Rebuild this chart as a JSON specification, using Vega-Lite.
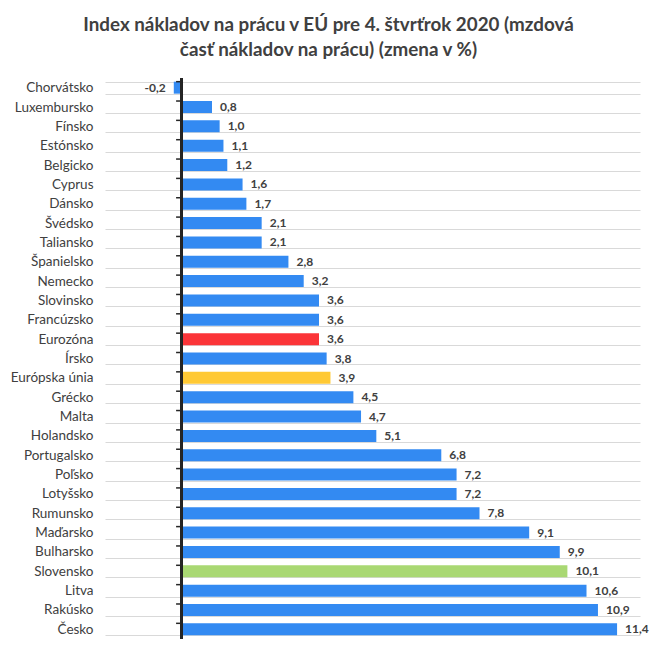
{
  "$schema": "https://vega.github.io/schema/vega-lite/v6.json",
  "width": 535,
  "height": 561,
  "autosize": "none",
  "padding": {"left": 105, "top": 78, "right": 16, "bottom": 17},
  "background": "white",
  "title": {
    "text": ["Index nákladov na prácu v EÚ pre 4. štvrťrok 2020 (mzdová", "časť nákladov na prácu) (zmena v %)"],
    "font": "Lato",
    "fontSize": 18.8,
    "fontWeight": "bold",
    "color": "#404040",
    "anchor": "middle",
    "dx": -44,
    "offset": 11,
    "lineHeight": 25
  },
  "data": {
    "values": [
      {"krajina": "Chorvátsko", "zmena": -0.2, "typ": "krajina"},
      {"krajina": "Luxembursko", "zmena": 0.8, "typ": "krajina"},
      {"krajina": "Fínsko", "zmena": 1.0, "typ": "krajina"},
      {"krajina": "Estónsko", "zmena": 1.1, "typ": "krajina"},
      {"krajina": "Belgicko", "zmena": 1.2, "typ": "krajina"},
      {"krajina": "Cyprus", "zmena": 1.6, "typ": "krajina"},
      {"krajina": "Dánsko", "zmena": 1.7, "typ": "krajina"},
      {"krajina": "Švédsko", "zmena": 2.1, "typ": "krajina"},
      {"krajina": "Taliansko", "zmena": 2.1, "typ": "krajina"},
      {"krajina": "Španielsko", "zmena": 2.8, "typ": "krajina"},
      {"krajina": "Nemecko", "zmena": 3.2, "typ": "krajina"},
      {"krajina": "Slovinsko", "zmena": 3.6, "typ": "krajina"},
      {"krajina": "Francúzsko", "zmena": 3.6, "typ": "krajina"},
      {"krajina": "Eurozóna", "zmena": 3.6, "typ": "eurozona"},
      {"krajina": "Írsko", "zmena": 3.8, "typ": "krajina"},
      {"krajina": "Európska únia", "zmena": 3.9, "typ": "eu"},
      {"krajina": "Grécko", "zmena": 4.5, "typ": "krajina"},
      {"krajina": "Malta", "zmena": 4.7, "typ": "krajina"},
      {"krajina": "Holandsko", "zmena": 5.1, "typ": "krajina"},
      {"krajina": "Portugalsko", "zmena": 6.8, "typ": "krajina"},
      {"krajina": "Poľsko", "zmena": 7.2, "typ": "krajina"},
      {"krajina": "Lotyšsko", "zmena": 7.2, "typ": "krajina"},
      {"krajina": "Rumunsko", "zmena": 7.8, "typ": "krajina"},
      {"krajina": "Maďarsko", "zmena": 9.1, "typ": "krajina"},
      {"krajina": "Bulharsko", "zmena": 9.9, "typ": "krajina"},
      {"krajina": "Slovensko", "zmena": 10.1, "typ": "slovensko"},
      {"krajina": "Litva", "zmena": 10.6, "typ": "krajina"},
      {"krajina": "Rakúsko", "zmena": 10.9, "typ": "krajina"},
      {"krajina": "Česko", "zmena": 11.4, "typ": "krajina"}
    ]
  },
  "layer": [
    {
      "mark": {"type": "bar"},
      "encoding": {
        "y": {
          "field": "krajina",
          "type": "nominal",
          "sort": null,
          "title": null,
          "scale": {"paddingInner": 0.38, "paddingOuter": 0.19},
          "axis": {
            "domain": false,
            "ticks": false,
            "grid": true,
            "gridColor": "#d9d9d9",
            "gridWidth": 1,
            "tickBand": "extent",
            "labelPadding": 12,
            "labelFont": "Lato",
            "labelFontSize": 13.5,
            "labelColor": "#404040"
          }
        },
        "x": {
          "field": "zmena",
          "type": "quantitative",
          "scale": {"domain": [-2, 12], "nice": false, "zero": false},
          "axis": null
        },
        "color": {
          "field": "typ",
          "type": "nominal",
          "scale": {
            "domain": ["krajina", "eurozona", "eu", "slovensko"],
            "range": ["#338af2", "#fb3438", "#ffc934", "#a9d873"]
          },
          "legend": null
        }
      }
    },
    {
      "mark": {"type": "rule", "color": "#262626", "strokeWidth": 1.5},
      "encoding": {"x": {"datum": 0, "type": "quantitative"}}
    },
    {
      "mark": {"type": "rule", "color": "#262626", "strokeWidth": 1.5},
      "encoding": {
        "y": {"field": "krajina", "type": "nominal", "sort": null, "bandPosition": 0},
        "x": {"datum": -0.14, "type": "quantitative"},
        "x2": {"datum": 0}
      }
    },
    {
      "transform": [{"filter": "datum.zmena >= 0"}],
      "mark": {"type": "text", "align": "left", "dx": 8, "font": "Lato", "fontSize": 12, "fontWeight": "bold", "color": "#404040"},
      "encoding": {
        "y": {"field": "krajina", "type": "nominal", "sort": null},
        "x": {"field": "zmena", "type": "quantitative"},
        "text": {"field": "zmena", "type": "quantitative", "format": ".1f"}
      }
    },
    {
      "transform": [{"filter": "datum.zmena < 0"}],
      "mark": {"type": "text", "align": "right", "dx": -8, "font": "Lato", "fontSize": 12, "fontWeight": "bold", "color": "#404040"},
      "encoding": {
        "y": {"field": "krajina", "type": "nominal", "sort": null},
        "x": {"field": "zmena", "type": "quantitative"},
        "text": {"field": "zmena", "type": "quantitative", "format": ".1f"}
      }
    }
  ],
  "config": {
    "view": {"stroke": null},
    "locale": {
      "number": {"decimal": ",", "thousands": " ", "grouping": [3], "currency": ["", " €"], "minus": "-"}
    }
  }
}
